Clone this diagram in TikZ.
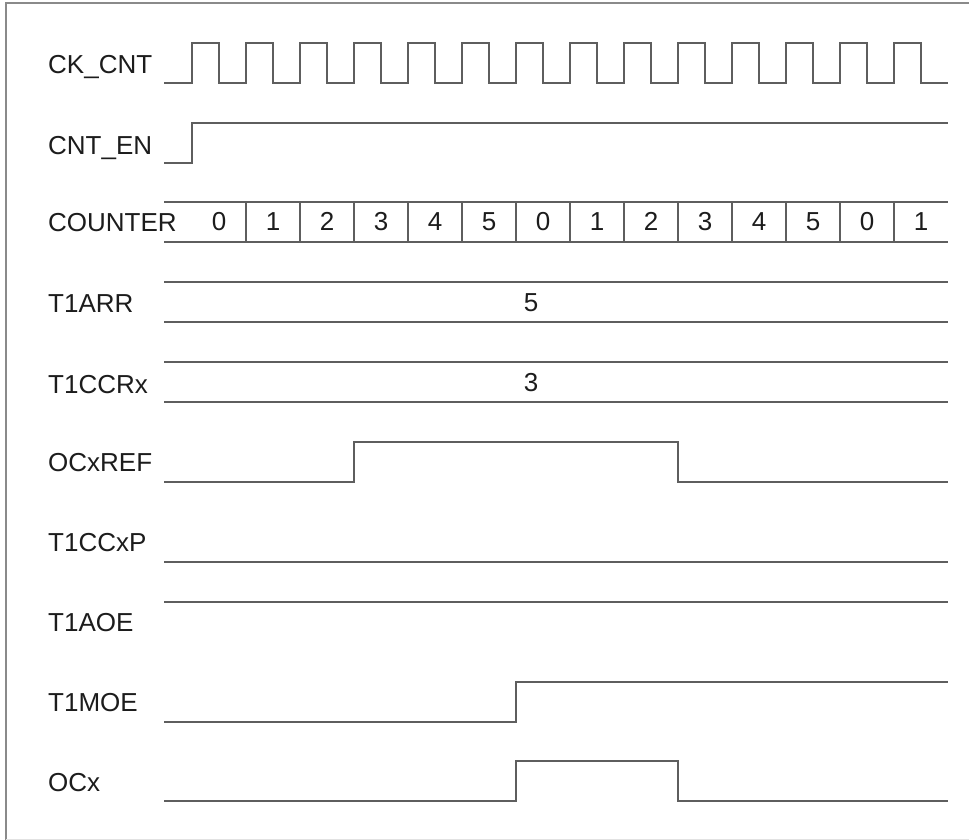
\documentclass[tikz,border=0pt]{standalone}
\usepackage{fontspec}
\setmainfont{Liberation Sans}
\usetikzlibrary{positioning}
\definecolor{wavegray}{HTML}{5E5E5E}
\definecolor{framegray}{HTML}{8A8A8A}
\definecolor{labelink}{HTML}{1C1C1C}

\begin{document}
\begin{tikzpicture}[
    x=1pt,y=-1pt,
    sig/.style = {wavegray, line width=1.6pt, line join=miter},
    lbl/.style = {anchor=base west, inner sep=0pt, text=labelink,
                  font=\fontsize{26}{30}\selectfont},
    val/.style = {anchor=base, inner sep=0pt, text=labelink,
                  font=\fontsize{26}{30}\selectfont},
  ]
  \useasboundingbox (0,0) rectangle (969,840);

  % frame
  \draw[framegray,line width=1.6pt] (6,840) -- (6,3) -- (969,3);
  \draw[framegray!25,line width=1pt] (6,839) -- (969,839);

  % signal names
  \node[lbl] (lck)  at (48, 74) {CK\_CNT};
  \node[lbl] (len)  at (48,154) {CNT\_EN};
  \node[lbl] (lcnt) at (48,231) {COUNTER};
  \node[lbl] (larr) at (48,312) {T1ARR};
  \node[lbl] (lccr) at (48,393) {T1CCRx};
  \node[lbl] (lref) at (48,471) {OCxREF};
  \node[lbl] (lccp) at (48,551) {T1CCxP};
  \node[lbl] (laoe) at (48,631) {T1AOE};
  \node[lbl] (lmoe) at (48,711) {T1MOE};
  \node[lbl] (locx) at (48,791) {OCx};

  % CK_CNT
  \draw[sig] (164,83)
    \foreach \k in {0,...,13} {
      -- ({192+54*\k},83) -- ({192+54*\k},43)
      -- ({219+54*\k},43) -- ({219+54*\k},83) }
    -- (948,83);

  % CNT_EN
  \draw[sig] (164,163) -- (192,163) -- (192,123) -- (948,123);

  % COUNTER
  \draw[sig] (164,202) -- (948,202);
  \draw[sig] (164,242) -- (948,242);
  \foreach \k in {0,...,12}
    \draw[sig] ({246+54*\k},202) -- ({246+54*\k},242);
  \foreach \v [count=\k from 0] in {0,1,2,3,4,5,0,1,2,3,4,5,0,1}
    \node[val] (cnt\k) at ({219+54*\k},230) {\v};

  % T1ARR, T1CCRx
  \draw[sig] (164,282) -- (948,282);
  \draw[sig] (164,322) -- (948,322);
  \node[val] (varr) at (531,311) {5};
  \draw[sig] (164,362) -- (948,362);
  \draw[sig] (164,402) -- (948,402);
  \node[val] (vccr) at (531,391) {3};

  % OCxREF
  \draw[sig] (164,482) -- (354,482) -- (354,442) -- (678,442)
             -- (678,482) -- (948,482);

  % T1CCxP, T1AOE
  \draw[sig] (164,562) -- (948,562);
  \draw[sig] (164,602) -- (948,602);

  % T1MOE
  \draw[sig] (164,722) -- (516,722) -- (516,682) -- (948,682);

  % OCx
  \draw[sig] (164,801) -- (516,801) -- (516,761) -- (678,761)
             -- (678,801) -- (948,801);

\end{tikzpicture}
\end{document}
